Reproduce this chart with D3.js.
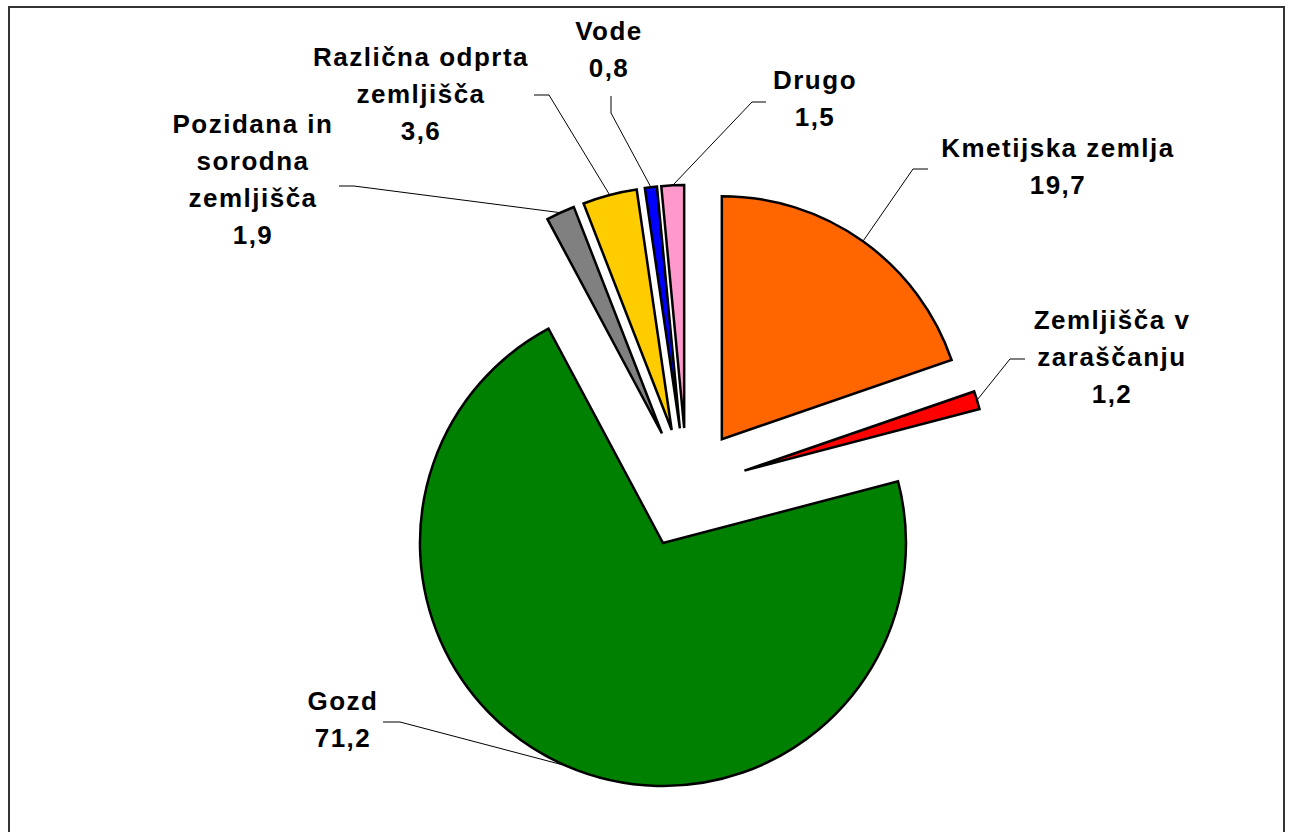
<!DOCTYPE html>
<html>
<head>
<meta charset="utf-8">
<script src="https://cdn.jsdelivr.net/npm/d3@7"></script>
<style>
  html, body { margin: 0; padding: 0; background: #fff; }
  svg { display: block; }
  text { font-family: "Liberation Sans", Arial, sans-serif; font-weight: bold; font-size: 26px; fill: #000; letter-spacing: 1.5px; }
</style>
</head>
<body>
<svg id="chart" width="1290" height="832"></svg>
<script>
// ---- data ----
const categories = ["Kmetijska zemlja", "Zemljišča v zaraščanju", "Gozd", "Pozidana in sorodna zemljišča", "Različna odprta zemljišča", "Vode", "Drugo"];
const values = [19.7, 1.2, 71.2, 1.9, 3.6, 0.8, 1.5];
const colors = ["#FF6600", "#FF0000", "#008000", "#808080", "#FFCC00", "#0000FF", "#FF99CC"];
const labelLines = [
  ["Kmetijska zemlja"],
  ["Zemljišča v", "zaraščanju"],
  ["Gozd"],
  ["Pozidana in", "sorodna", "zemljišča"],
  ["Različna odprta", "zemljišča"],
  ["Vode"],
  ["Drugo"]
];

// ---- layout (positions only) ----
const W = 1290, H = 832;
const center = [687, 488];
const radius = 243;
const explode = 60;
const lineGap = 37;
const labelPos = [
  {x: 1058, y: 157, leader: [[928, 169], [913, 169]]},
  {x: 1112, y: 329, leader: [[1025, 359], [1010, 359]]},
  {x: 343,  y: 710, leader: [[383, 722], [400, 722]]},
  {x: 253,  y: 133, leader: [[339, 186], [354, 186]]},
  {x: 421,  y: 66,  leader: [[534, 95], [549, 95]]},
  {x: 609,  y: 40,  leader: [[611, 96], [611, 113]]},
  {x: 815,  y: 89,  leader: [[766, 102], [752, 102]]}
];

const svg = d3.select("#chart");

// frame
svg.append("rect")
  .attr("x", 9).attr("y", 7)
  .attr("width", 1275).attr("height", 860)
  .attr("fill", "none").attr("stroke", "#333").attr("stroke-width", 2);

const pie = d3.pie().sort(null).value(d => d);
const arcs = pie(values);
const arcGen = d3.arc().innerRadius(0).outerRadius(radius);

const g = svg.append("g").attr("transform", `translate(${center[0]},${center[1]})`);

function dirOf(a) {
  const m = (a.startAngle + a.endAngle) / 2;
  return [Math.sin(m), -Math.cos(m)];
}

g.selectAll("path.slice")
  .data(arcs)
  .enter().append("path")
  .attr("class", "slice")
  .attr("d", arcGen)
  .attr("transform", d => { const v = dirOf(d); return `translate(${v[0]*explode},${v[1]*explode})`; })
  .attr("fill", (d, i) => colors[i])
  .attr("stroke", "#000")
  .attr("stroke-width", 2.5)
  .attr("stroke-linejoin", "miter");

// leader lines
const line = d3.line();
arcs.forEach((a, i) => {
  const v = dirOf(a);
  const end = [center[0] + v[0]*(explode + radius), center[1] + v[1]*(explode + radius)];
  const pts = labelPos[i].leader.concat([end]);
  svg.append("path")
    .attr("d", line(pts))
    .attr("fill", "none")
    .attr("stroke", "#000")
    .attr("stroke-width", 1);
});

// labels
const fmt = v => d3.format(".1f")(v).replace(".", ",");
arcs.forEach((a, i) => {
  const lines = labelLines[i].concat([fmt(values[i])]);
  const t = svg.append("text")
    .attr("text-anchor", "middle");
  lines.forEach((s, k) => {
    t.append("tspan")
      .attr("x", labelPos[i].x)
      .attr("y", labelPos[i].y + k * lineGap)
      .text(s);
  });
});
</script>
</body>
</html>
